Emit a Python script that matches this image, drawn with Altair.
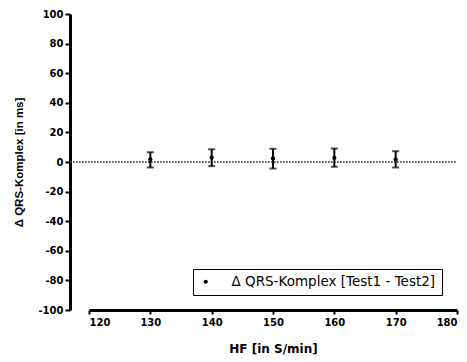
import altair as alt
import pandas as pd

hf = [130, 140, 150, 160, 170]
mean = [1.7, 3.0, 2.4, 2.8, 1.7]
upper = [6.6, 8.6, 8.9, 9.1, 7.3]
lower = [-3.7, -2.8, -4.4, -3.2, -3.7]
series_name = "Δ QRS-Komplex [Test1 - Test2]"
x_ticks = [120, 130, 140, 150, 160, 170, 180]
y_ticks = [-100, -80, -60, -40, -20, 0, 20, 40, 60, 80, 100]

df = pd.DataFrame({"hf": hf, "mean": mean, "upper": upper, "lower": lower,
                   "series": [series_name] * len(hf)})

W, H = 368, 296

xs = alt.Scale(domain=[120, 180], nice=False, zero=False)
ys = alt.Scale(domain=[-100, 100], nice=False, zero=False)

xaxis = alt.Axis(values=x_ticks, title="HF [in S/min]",
                 grid=False, domainWidth=3, domainColor="black", tickColor="black",
                 tickWidth=2, tickSize=4, labelFont="DejaVu Sans", labelFontWeight="bold",
                 labelFontSize=10, labelColor="black", labelPadding=3, labelOverlap=False,
                 labelExpr="'' + datum.value",
                 titleFont="DejaVu Sans", titleFontWeight="bold", titleFontSize=12,
                 titleColor="black", titlePadding=16, offset=0)
yaxis = alt.Axis(values=y_ticks, title="Δ QRS-Komplex [in ms]",
                 grid=False, domainWidth=3, domainColor="black", tickColor="black",
                 tickWidth=2, tickSize=5, labelFont="DejaVu Sans", labelFontWeight="bold",
                 labelFontSize=10, labelColor="black", labelPadding=2, labelOverlap=False,
                 labelExpr="'' + datum.value",
                 titleFont="Liberation Sans Narrow, Liberation Sans", titleFontWeight="bold",
                 titleFontSize=11.5, titleColor="black", titlePadding=13, offset=19)

base = alt.Chart(df)

bars = base.mark_rule(color="black", strokeWidth=2).encode(
    x=alt.X("hf:Q", scale=xs, axis=xaxis),
    y=alt.Y("lower:Q", scale=ys, axis=yaxis),
    y2="upper:Q")

zero = base.mark_rule(color="#555555", strokeDash=[1.5, 1.5], strokeWidth=0.7).encode(
    x=alt.value(-19), x2=alt.value(W), y=alt.datum(0, scale=ys, axis=yaxis))

caps_hi = base.mark_tick(color="black", orient="horizontal", size=7, thickness=2).encode(
    x=alt.X("hf:Q", scale=xs, axis=xaxis), y=alt.Y("upper:Q", scale=ys, axis=yaxis))
caps_lo = base.mark_tick(color="black", orient="horizontal", size=7, thickness=2).encode(
    x=alt.X("hf:Q", scale=xs, axis=xaxis), y=alt.Y("lower:Q", scale=ys, axis=yaxis))

points = base.mark_point(filled=True, shape="circle", size=18, opacity=1).encode(
    x=alt.X("hf:Q", scale=xs, axis=xaxis), y=alt.Y("mean:Q", scale=ys, axis=yaxis),
    color=alt.Color("series:N", scale=alt.Scale(range=["black"]),
                    legend=alt.Legend(title=None, orient="none", legendX=104, legendY=255,
                                      strokeColor="black", padding=6,
                                      labelFont="DejaVu Sans", labelFontSize=13.5,
                                      labelColor="black", symbolSize=18, symbolOffset=0,
                                      labelOffset=19, labelLimit=400)))

chart = alt.layer(zero, bars, caps_hi, caps_lo, points).properties(
    width=W, height=H,
    autosize=alt.AutoSizeParams(type="none"),
    padding={"left": 89, "top": 14, "right": 10, "bottom": 52},
    background="white"
).configure_view(stroke=None)

chart.save("out.html", embed_options={"renderer": "svg", "actions": False})
